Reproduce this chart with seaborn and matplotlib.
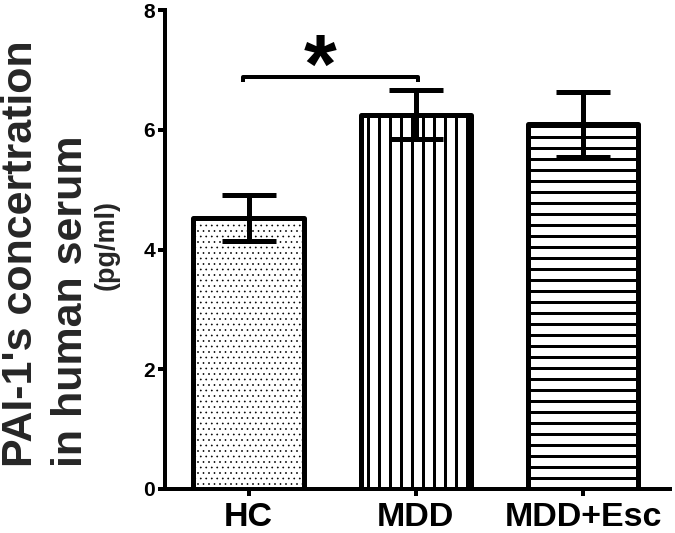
import numpy as np
import pandas as pd
import matplotlib
matplotlib.use("Agg")
import matplotlib.pyplot as plt
import seaborn as sns

# ---- data ----
groups = ["HC", "MDD", "MDD+Esc"]
means = [4.53, 6.25, 6.09]
errors = [0.38, 0.41, 0.54]
hatches = ["..", "|", "-"]
yticks = [0, 2, 4, 6, 8]
ylabel_line1 = "PAI-1's concertration"
ylabel_line2 = "in human serum"
ylabel_unit = "(pg/ml)"
sig_pair = (0, 1)
sig_label = "*"

sns.set_theme(style="ticks")
plt.rcParams["font.family"] = ["Liberation Sans", "DejaVu Sans"]
plt.rcParams["font.weight"] = "bold"

DPI = 200 / 3
W, H = 675, 533
PT = 72 / DPI  # points per pixel

fig = plt.figure(figsize=(W / DPI, H / DPI), dpi=DPI)
ax = fig.add_axes([165 / W, 44 / H, 505 / W, 479 / H])

df = pd.DataFrame({"group": groups, "value": means})
sns.barplot(data=df, x="group", y="value", color="white", edgecolor="black",
            linewidth=5 * PT, width=0.66, errorbar=None, ax=ax, zorder=2)

for p, h in zip(ax.patches, hatches):
    p.set_facecolor("white")
    p.set_edgecolor("black")
    p.set_joinstyle("round")
    p.set_hatch(h)
    lw = 0.7 if "." in h else 3.0 * PT
    if hasattr(p, "set_hatch_linewidth"):
        p.set_hatch_linewidth(lw)
    else:
        p._hatch_linewidth = lw

xpos = np.arange(len(groups))
ax.errorbar(xpos, means, yerr=errors, fmt="none", ecolor="black",
            elinewidth=5 * PT, capsize=27.5 * PT, capthick=5 * PT, zorder=5)

# significance bracket
x0, x1 = sig_pair[0] - 0.036, sig_pair[1] + 0.01
y0, d = 6.88, 0.09
ax.plot([x0, x0, x1, x1], [y0 - d, y0, y0, y0 - d], color="black",
        lw=4 * PT, solid_joinstyle="round", solid_capstyle="butt", zorder=6)
ax.text((x0 + x1) / 2 - 0.06, 6.62, sig_label, ha="center", va="baseline",
        fontsize=84 * PT, fontweight="bold", color="black")

ax.set_ylim(0, 8)
ax.set_xlim(-0.5, 2.52)
ax.set_yticks(yticks)
ax.set_yticklabels([str(t) for t in yticks])
ax.set_xlabel("")
ax.set_ylabel("")
sns.despine(ax=ax)
for s in ["left", "bottom"]:
    ax.spines[s].set_linewidth(4 * PT)
    ax.spines[s].set_color("black")
ax.tick_params(axis="both", width=4 * PT, length=7 * PT, color="black")
ax.tick_params(axis="y", labelsize=21 * PT, pad=3 * PT)
ax.tick_params(axis="x", labelsize=34 * PT, pad=6 * PT)
for lab in ax.get_xticklabels() + ax.get_yticklabels():
    lab.set_fontweight("bold")
    lab.set_color("black")

# y label in three lines
fig.text(32 / W, 1 - 467 / H, ylabel_line1, rotation=90, rotation_mode="anchor",
         ha="left", va="baseline", fontsize=43 * PT, fontweight="bold")
fig.text(82 / W, 1 - 467 / H, ylabel_line2, rotation=90, rotation_mode="anchor",
         ha="left", va="baseline", fontsize=43 * PT, fontweight="bold")
fig.text(114 / W, 1 - 245 / H, ylabel_unit, rotation=90, rotation_mode="anchor",
         ha="center", va="baseline", fontsize=27 * PT, fontweight="bold")

fig.savefig("out.png", dpi=DPI, facecolor="white")
